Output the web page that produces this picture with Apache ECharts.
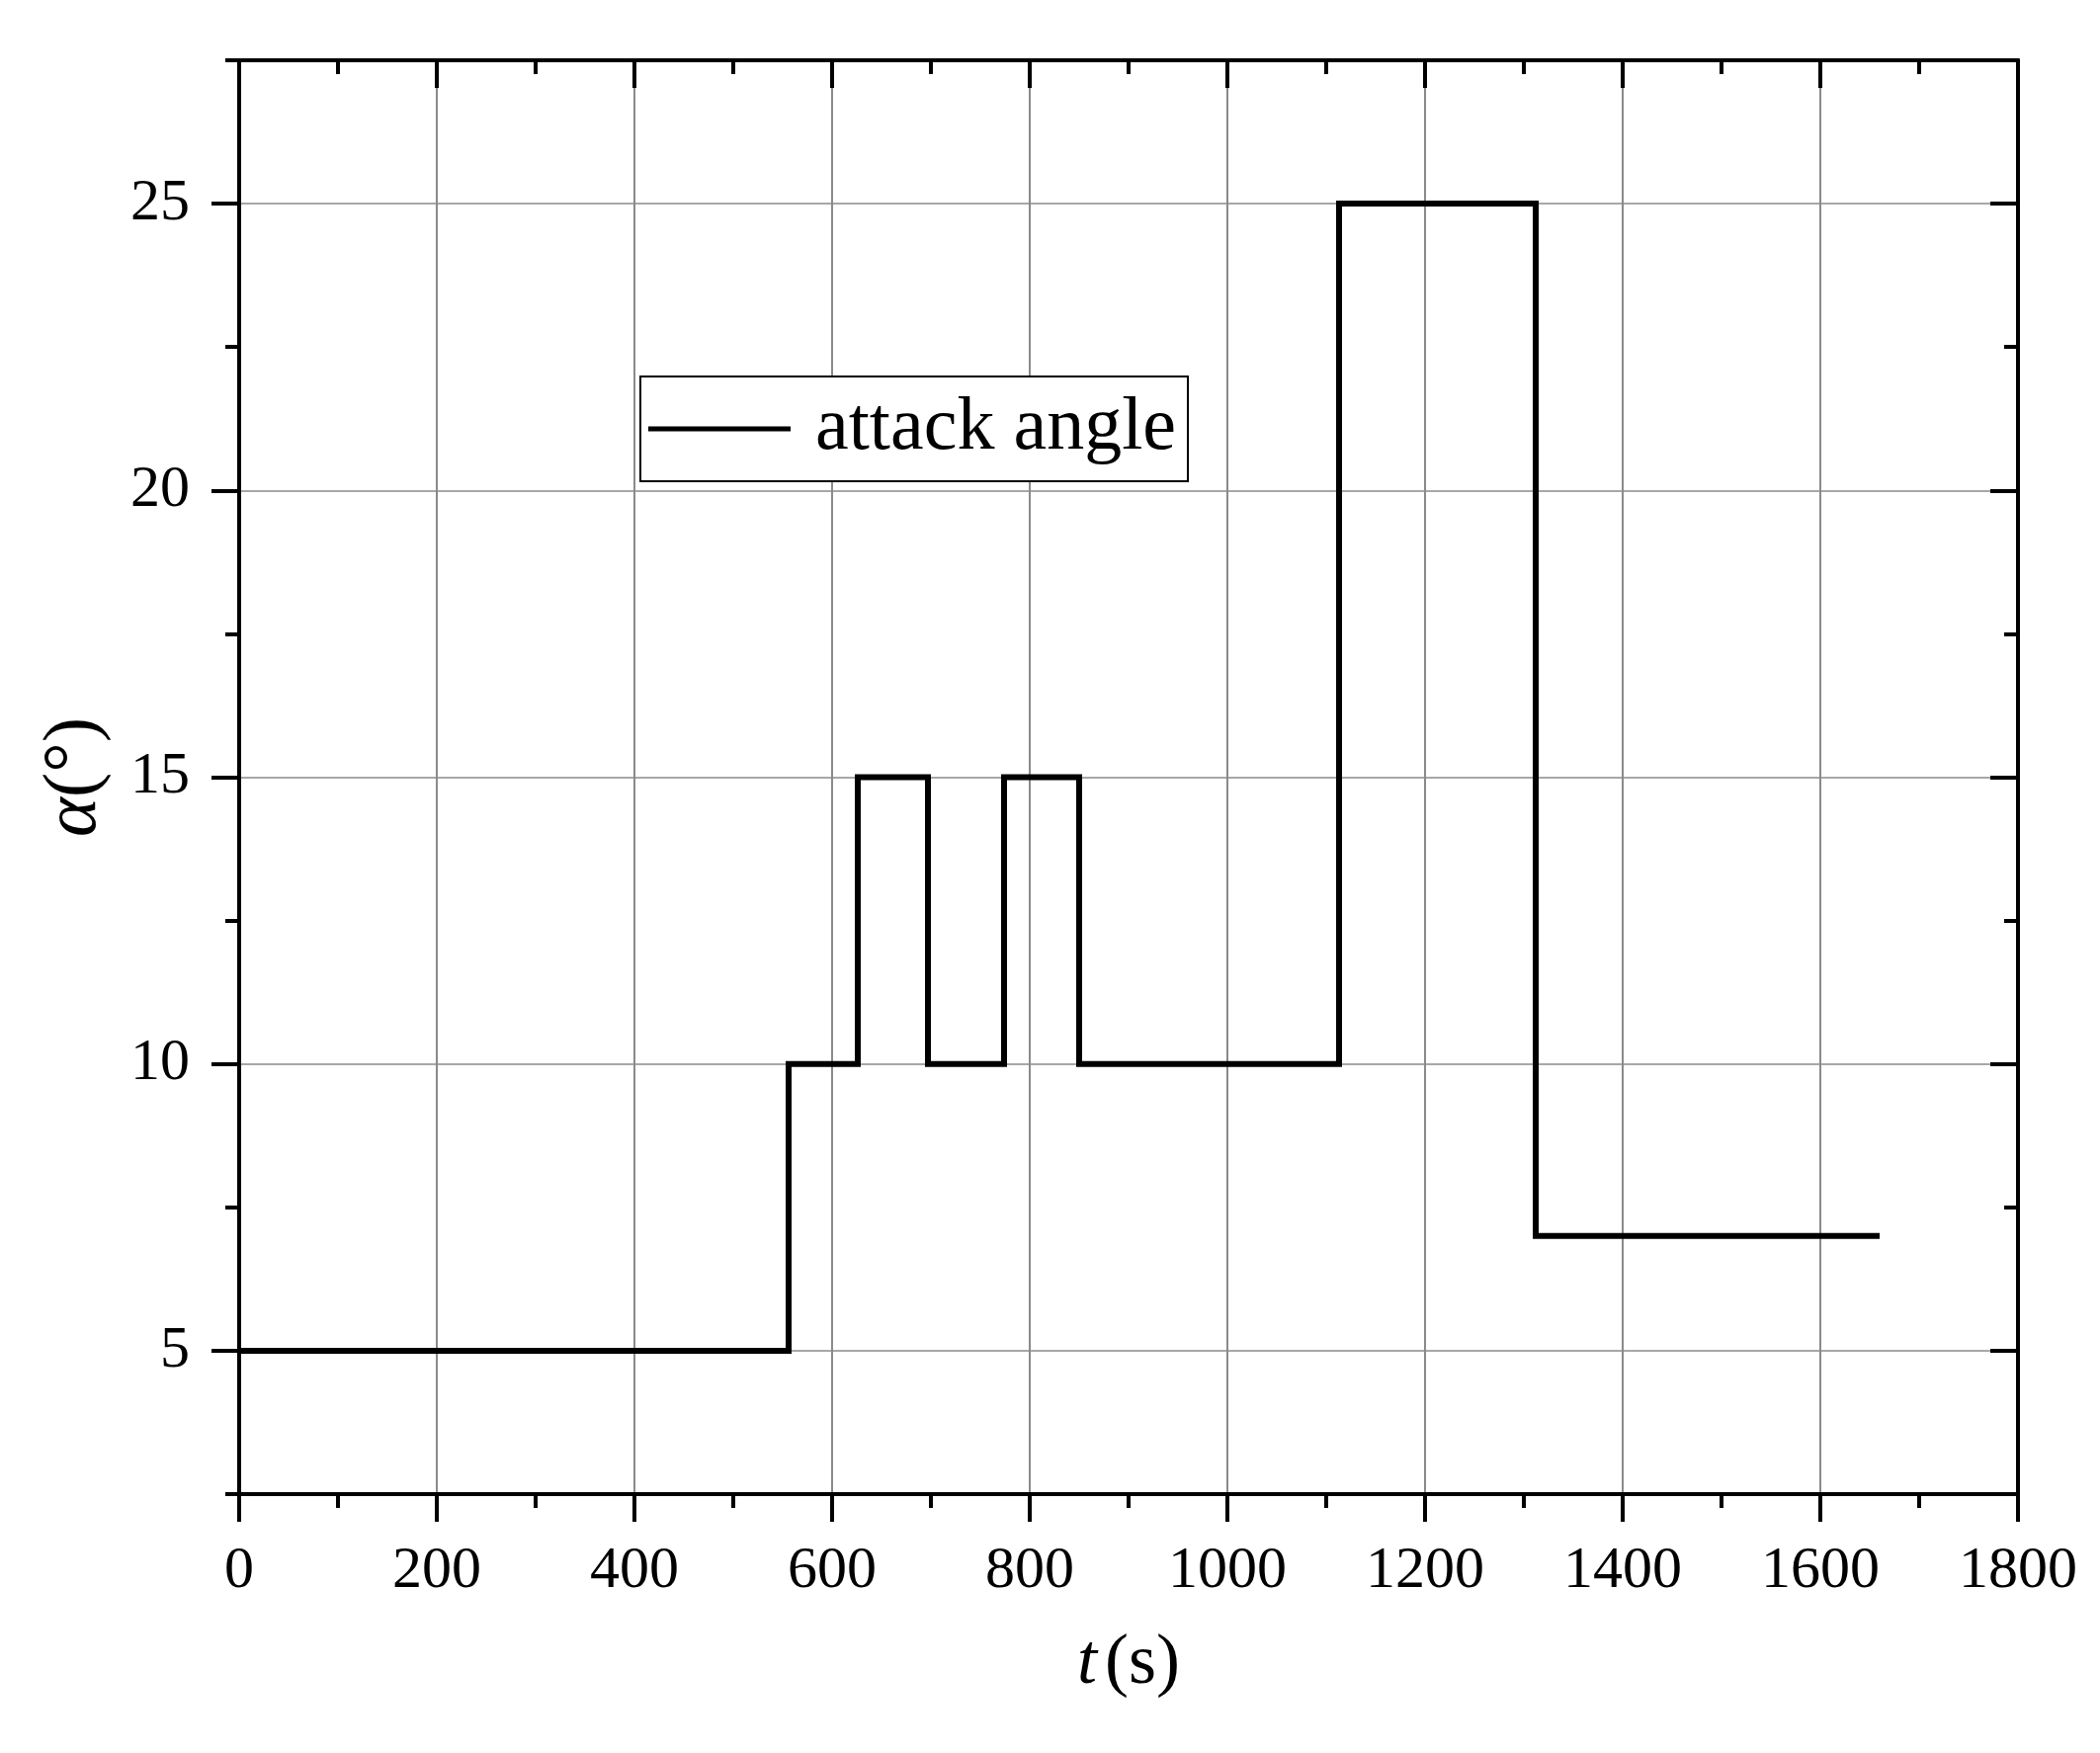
<!DOCTYPE html>
<html>
<head>
<meta charset="utf-8">
<script src="https://cdn.jsdelivr.net/npm/echarts@6/dist/echarts.min.js"></script>
<style>
html,body{margin:0;padding:0;background:#fff;}
#chart{width:2125px;height:1774px;}
</style>
</head>
<body>
<div id="chart"></div>
<script>
// ---- data ----
const times = [0, 556, 626, 697, 774, 850, 1113, 1312, 1660];
const alpha = [5, 10, 15, 10, 15, 10, 25, 7, 7];
const seriesName = 'attack angle';
const yMajorTicks = [5, 10, 15, 20, 25];
const xMin = 0, xMax = 1800, xStep = 200;
const yMin = 2.5, yMax = 27.5, yMinorStep = 2.5;

const FONT = '"Liberation Serif", "Times New Roman", serif';
const black = '#000';
const gridColor = '#8a8a8a';

const chart = echarts.init(document.getElementById('chart'), null, {renderer: 'canvas'});

const baseX = {
  type: 'value', min: xMin, max: xMax, interval: xStep,
  axisLine: {show: true, onZero: false, lineStyle: {color: black, width: 4}},
};
const baseY = {
  type: 'value', min: yMin, max: yMax,
  axisLine: {show: true, onZero: false, lineStyle: {color: black, width: 4}},
};

const option = {
  backgroundColor: '#fff',
  animation: false,
  grid: {left: 242, right: 83, top: 61, bottom: 262, containLabel: false},
  legend: {
    show: true,
    data: [seriesName],
    left: 648, top: 381,
    orient: 'horizontal',
    icon: 'rect',
    itemWidth: 144, itemHeight: 5,
    borderColor: black, borderWidth: 2, borderRadius: 0,
    padding: [15, 12, 15, 8],
    backgroundColor: '#fff',
    textStyle: {fontFamily: FONT, fontSize: 76, color: black, lineHeight: 70, padding: [0, 0, 0, 20]}
  },
  xAxis: [
    Object.assign({}, baseX, {
      position: 'bottom',
      name: '{i|t}{n|(s)}',
      nameLocation: 'middle',
      nameGap: 136,
      nameTextStyle: {
        fontFamily: FONT, color: black,
        rich: {
          i: {fontFamily: FONT, fontStyle: 'italic', fontSize: 72, color: black},
          n: {fontFamily: FONT, fontSize: 72, color: black, padding: [0, 0, 0, 8]}
        }
      },
      axisTick: {show: true, inside: false, length: 28, lineStyle: {color: black, width: 4}},
      minorTick: {show: true, splitNumber: 2, length: 14, lineStyle: {color: black, width: 4}},
      axisLabel: {show: true, margin: 48, fontFamily: FONT, fontSize: 60, color: black,
                  formatter: v => String(v)},
      splitLine: {show: true, lineStyle: {color: gridColor, width: 2}}
    }),
    Object.assign({}, baseX, {
      position: 'top',
      axisTick: {show: true, inside: true, length: 28, lineStyle: {color: black, width: 4}},
      minorTick: {show: true, splitNumber: 2, length: 14, lineStyle: {color: black, width: 4}},
      axisLabel: {show: false},
      splitLine: {show: false}
    })
  ],
  yAxis: [
    Object.assign({}, baseY, {
      position: 'left', interval: yMinorStep,
      axisTick: {show: true, inside: false, length: 14, lineStyle: {color: black, width: 4}},
      axisLabel: {show: false},
      splitLine: {show: false}
    }),
    Object.assign({}, baseY, {
      position: 'left',
      name: '{i|α}{n|(°)}',
      nameLocation: 'middle',
      nameGap: 128,
      nameRotate: 90,
      nameTextStyle: {
        fontFamily: FONT, color: black,
        rich: {
          i: {fontFamily: FONT, fontStyle: 'italic', fontSize: 76, color: black},
          n: {fontFamily: FONT, fontSize: 76, color: black}
        }
      },
      axisTick: {show: true, inside: false, length: 28, customValues: yMajorTicks, lineStyle: {color: black, width: 4}},
      axisLabel: {show: true, margin: 50, customValues: yMajorTicks, fontFamily: FONT, fontSize: 60, color: black},
      splitLine: {show: true, lineStyle: {color: gridColor, width: 1.5}}
    }),
    Object.assign({}, baseY, {
      position: 'right', interval: yMinorStep,
      axisTick: {show: true, inside: true, length: 14, lineStyle: {color: black, width: 4}},
      axisLabel: {show: false},
      splitLine: {show: false}
    }),
    Object.assign({}, baseY, {
      position: 'right',
      axisTick: {show: true, inside: true, length: 28, customValues: yMajorTicks, lineStyle: {color: black, width: 4}},
      axisLabel: {show: false, customValues: yMajorTicks},
      splitLine: {show: false}
    })
  ],
  series: [{
    name: seriesName,
    type: 'line',
    step: 'end',
    xAxisIndex: 0,
    yAxisIndex: 0,
    symbol: 'none',
    color: black,
    lineStyle: {color: black, width: 6, join: 'miter', cap: 'butt'},
    data: times.map((t, i) => [t, alpha[i]]),
    z: 5
  }]
};
chart.setOption(option);
</script>
</body>
</html>
